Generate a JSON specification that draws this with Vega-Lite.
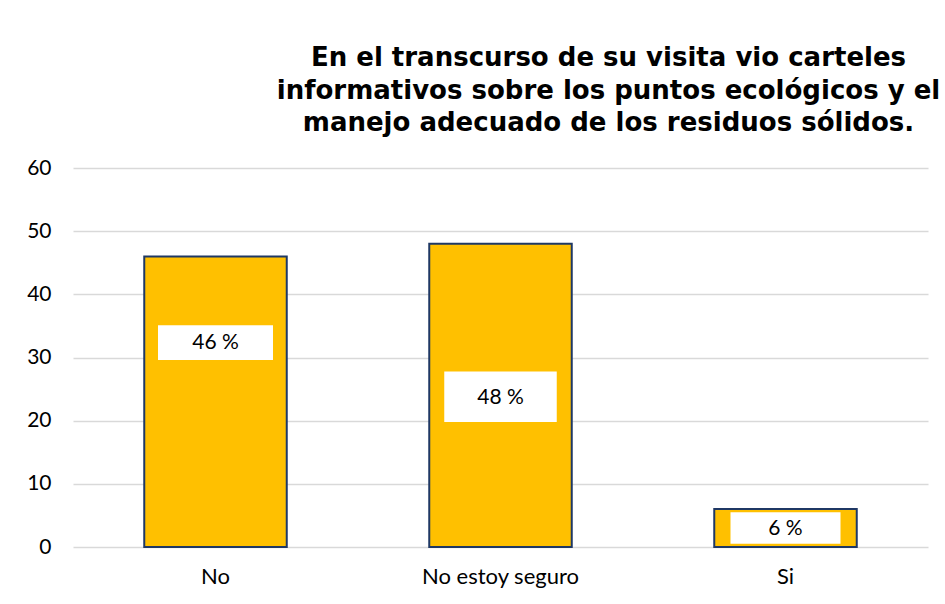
{
  "$schema": "https://vega.github.io/schema/vega-lite/v6.json",
  "width": 855,
  "height": 379,
  "autosize": "none",
  "padding": {"left": 73, "top": 168, "right": 17, "bottom": 57},
  "background": "white",
  "title": {
    "text": ["En el transcurso de su visita vio carteles", "informativos sobre los puntos ecológicos y el", "manejo adecuado de los residuos sólidos."],
    "font": "DejaVu Sans",
    "fontSize": 26,
    "fontWeight": "bold",
    "color": "#000000",
    "lineHeight": 32.5,
    "anchor": "middle",
    "dx": 108,
    "offset": 21
  },
  "data": {
    "values": [
      {"cat": "No", "value": 46, "label": "46 %", "box_lo": 29.6, "box_hi": 35.1, "label_y": 32.3},
      {"cat": "No estoy seguro", "value": 48, "label": "48 %", "box_lo": 19.8, "box_hi": 27.8, "label_y": 23.6},
      {"cat": "Si", "value": 6, "label": "6 %", "box_lo": 0.5, "box_hi": 5.5, "label_y": 2.85}
    ]
  },
  "encoding": {
    "x": {
      "field": "cat",
      "type": "nominal",
      "sort": null,
      "title": null,
      "scale": {"paddingInner": 0.5, "paddingOuter": 0.25},
      "axis": {"labelAngle": 0, "domain": false, "ticks": false, "labelFont": "Lato", "labelFontSize": 22, "labelColor": "#000000", "labelPadding": 19}
    }
  },
  "layer": [
    {
      "mark": {"type": "bar", "fill": "#FFC000", "stroke": "#1F3864", "strokeWidth": 2},
      "encoding": {
        "y": {
          "field": "value",
          "type": "quantitative",
          "title": null,
          "scale": {"domain": [0, 60]},
          "axis": {"values": [0, 10, 20, 30, 40, 50, 60], "domain": false, "ticks": false, "gridColor": "#d9d9d9", "gridWidth": 1.5, "labelFont": "Lato", "labelFontSize": 21, "labelColor": "#000000", "labelPadding": 22}
        }
      }
    },
    {
      "mark": {"type": "bar", "fill": "white"},
      "encoding": {
        "y": {"field": "box_lo", "type": "quantitative"},
        "y2": {"field": "box_hi"},
        "size": {"field": "cat", "type": "nominal", "scale": {"domain": ["No", "No estoy seguro", "Si"], "range": [115, 110, 65]}, "legend": null}
      }
    },
    {
      "mark": {"type": "text", "font": "Lato", "fontSize": 21, "color": "#000000", "baseline": "middle", "align": "center"},
      "encoding": {
        "y": {"field": "label_y", "type": "quantitative"},
        "text": {"field": "label"}
      }
    }
  ],
  "config": {"view": {"stroke": null}}
}
